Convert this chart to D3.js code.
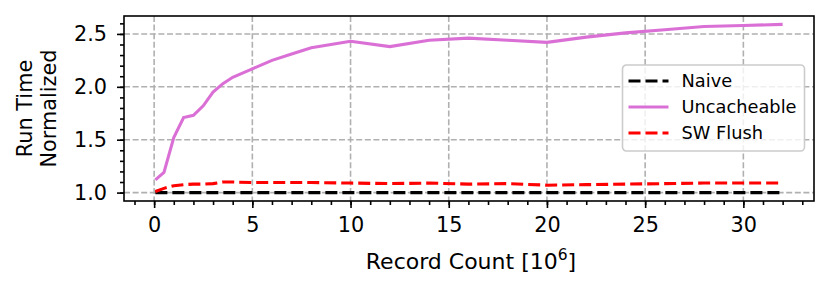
<!DOCTYPE html>
<html>
<head>
<meta charset="utf-8">
<script src="https://cdn.jsdelivr.net/npm/d3@7"></script>
<style>
    body { margin: 0; background: #fff; }
    svg text { font-family: "DejaVu Sans", sans-serif; fill: #000; }
</style>
</head>
<body>
<div id="chart"></div>
<script>
// record counts (millions)
const recordCount = [0.0625, 0.5, 1, 1.5, 2, 2.5, 3, 3.5, 4, 5, 6, 7, 8, 10, 12, 14, 16, 18, 20, 22, 24, 26, 28, 30, 32];

const naive = recordCount.map(() => 1.0);
const uncacheable = [1.12, 1.19, 1.52, 1.71, 1.73, 1.82, 1.95, 2.03, 2.09, 2.17, 2.25, 2.31, 2.37, 2.43, 2.38, 2.44, 2.46, 2.44, 2.42, 2.47, 2.51, 2.54, 2.57, 2.58, 2.59];
const swFlush = [1.01, 1.04, 1.065, 1.075, 1.08, 1.08, 1.085, 1.10, 1.10, 1.095, 1.095, 1.095, 1.095, 1.09, 1.085, 1.09, 1.08, 1.085, 1.07, 1.075, 1.08, 1.085, 1.09, 1.09, 1.09];

const xTicks = [0, 5, 10, 15, 20, 25, 30];
const yTicks = [1.0, 1.5, 2.0, 2.5];

const series = [
    {name: "Naive", values: naive, color: "#000000", dash: "12,5"},
    {name: "Uncacheable", values: uncacheable, color: "orchid", dash: null},
    {name: "SW Flush", values: swFlush, color: "#ff0000", dash: "12,5"}
];

const W = 831, H = 291;
const margin = {top: 16, right: 17, bottom: 90, left: 124},
    width = W - margin.left - margin.right,
    height = H - margin.top - margin.bottom;

function padded(lo, hi) {
    const p = (hi - lo) * 0.05;
    return [lo - p, hi + p];
}

const allY = naive.concat(uncacheable, swFlush);
const x = d3.scaleLinear()
    .domain(padded(d3.min(recordCount), d3.max(recordCount)))
    .range([0, width]);
const y = d3.scaleLinear()
    .domain(padded(d3.min(allY), d3.max(allY)))
    .range([height, 0]);

const svg = d3.select("#chart").append("svg")
    .attr("width", W)
    .attr("height", H)
    .append("g")
    .attr("transform", "translate(" + margin.left + "," + margin.top + ")");

// grid
const grid = svg.append("g").attr("class", "grid")
    .attr("stroke", "#b0b0b0").attr("stroke-width", 1.6).attr("stroke-dasharray", "6,2.6");
grid.selectAll(".gx").data(xTicks).enter().append("line")
    .attr("x1", d => x(d)).attr("x2", d => x(d))
    .attr("y1", 0).attr("y2", height);
grid.selectAll(".gy").data(yTicks).enter().append("line")
    .attr("x1", 0).attr("x2", width)
    .attr("y1", d => y(d)).attr("y2", d => y(d));

// lines
const line = d3.line()
    .x((d, i) => x(recordCount[i]))
    .y(d => y(d));

svg.selectAll(".series").data(series).enter().append("path")
    .attr("fill", "none")
    .attr("stroke", d => d.color)
    .attr("stroke-width", 3.1)
    .attr("stroke-dasharray", d => d.dash)
    .attr("d", d => line(d.values));

// axes
const xMinor = d3.range(-1, 34, 1);
const yMinor = d3.range(1.0, 2.66, 0.1);

const xAxis = d3.axisBottom(x).tickValues(xTicks).tickFormat(d3.format("d"))
    .tickSizeInner(7).tickSizeOuter(0).tickPadding(9);
const xAxisMinor = d3.axisBottom(x).tickValues(xMinor).tickFormat("")
    .tickSizeInner(4).tickSizeOuter(0);
const yAxis = d3.axisLeft(y).tickValues(yTicks).tickFormat(d3.format(".1f"))
    .tickSizeInner(7).tickSizeOuter(0).tickPadding(10);
const yAxisMinor = d3.axisLeft(y).tickValues(yMinor).tickFormat("")
    .tickSizeInner(4).tickSizeOuter(0);

function styleAxis(g) {
    g.select(".domain").remove();
    g.selectAll(".tick line").attr("stroke", "#000").attr("stroke-width", 1.6);
    g.selectAll(".tick text").attr("font-size", "20.8px").attr("font-family", "DejaVu Sans");
}

svg.append("g").attr("transform", "translate(0," + height + ")").call(xAxisMinor).call(styleAxis);
svg.append("g").attr("transform", "translate(0," + height + ")").call(xAxis).call(styleAxis);
svg.append("g").call(yAxisMinor).call(styleAxis);
svg.append("g").call(yAxis).call(styleAxis);

// frame
svg.append("rect")
    .attr("width", width).attr("height", height)
    .attr("fill", "none").attr("stroke", "#000").attr("stroke-width", 1.6);

// axis labels
const xl = svg.append("text")
    .attr("x", width / 2 + 2).attr("y", height + 68)
    .attr("text-anchor", "middle").attr("font-size", "22px")
    .text("Record Count [10");
xl.append("tspan").attr("font-size", "15.5px").attr("dy", -9).text("6");
xl.append("tspan").attr("dy", 9).text("]");

const yl = svg.append("text")
    .attr("transform", "translate(-92," + (height / 2) + ") rotate(-90)")
    .attr("text-anchor", "middle").attr("font-size", "20.8px");
yl.append("tspan").attr("x", 0).attr("dy", 0).text("Run Time");
yl.append("tspan").attr("x", 0).attr("dy", 24).text("Normalized");

// legend
const lx = 498.5, ly = 49;
const legend = svg.append("g").attr("transform", "translate(" + lx + "," + ly + ")");
legend.append("rect")
    .attr("width", 182).attr("height", 86).attr("rx", 4)
    .attr("fill", "#fff").attr("fill-opacity", 0.8)
    .attr("stroke", "#cccccc").attr("stroke-width", 1.6);
const item = legend.selectAll(".item").data(series).enter().append("g")
    .attr("transform", (d, i) => "translate(0," + (16 + i * 26) + ")");
item.append("line")
    .attr("x1", 6).attr("x2", 46)
    .attr("stroke", d => d.color).attr("stroke-width", 3.1)
    .attr("stroke-dasharray", d => d.dash);
item.append("text")
    .attr("x", 59).attr("dy", "0.35em")
    .attr("font-size", "17.8px")
    .text(d => d.name);
</script>
</body>
</html>
